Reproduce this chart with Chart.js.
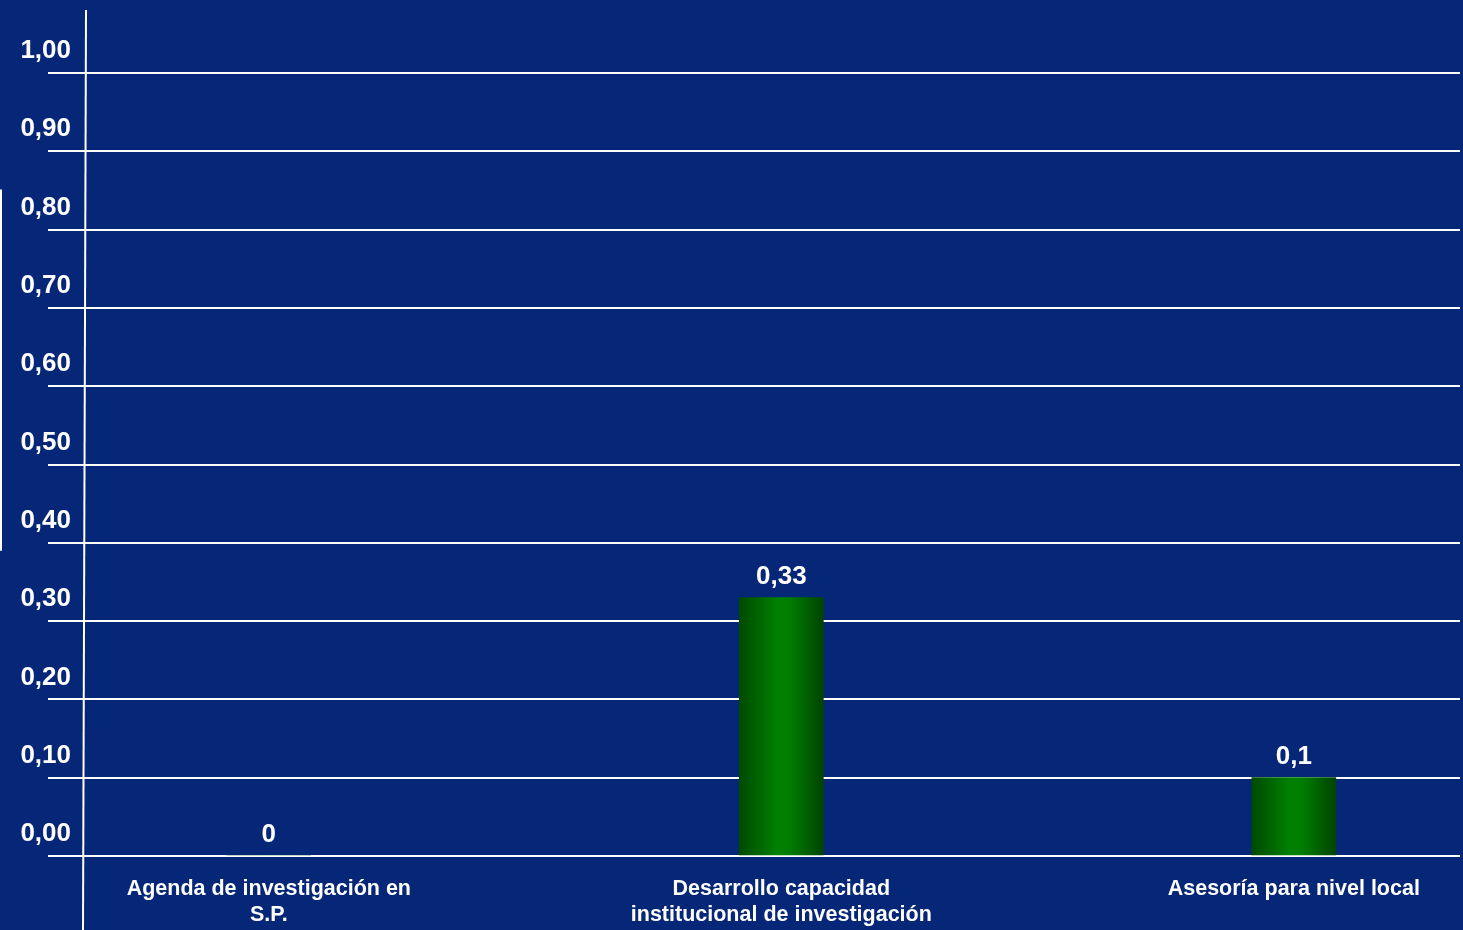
<!DOCTYPE html>
<html>
<head>
<meta charset="utf-8">
<script src="https://cdn.jsdelivr.net/npm/chart.js@4/dist/chart.umd.min.js"></script>
<style>
  html, body { margin: 0; padding: 0; background: #062677; }
  #wrap { width: 1463px; height: 930px; position: relative; }
</style>
</head>
<body>
<div id="wrap"><canvas id="c" width="1463" height="930"></canvas></div>
<script>
const categories = [
  ["Agenda de investigación en", "S.P."],
  ["Desarrollo capacidad", "institucional de investigación"],
  ["Asesoría para nivel local"]
];
const values = [0, 0.33, 0.1];
const yTickValues = [0, 0.1, 0.2, 0.3, 0.4, 0.5, 0.6, 0.7, 0.8, 0.9, 1.0];

const FONT = "'Liberation Sans', Arial, sans-serif";

function fmtComma(v) { return String(v).replace('.', ','); }

const valueLabelPlugin = {
  id: 'valueLabels',
  afterDatasetsDraw(chart) {
    const ctx = chart.ctx;
    const meta = chart.getDatasetMeta(0);
    ctx.save();
    ctx.fillStyle = '#ffffff';
    ctx.font = 'bold 26px ' + FONT;
    ctx.textAlign = 'center';
    ctx.textBaseline = 'middle';
    meta.data.forEach((el, i) => {
      ctx.fillText(fmtComma(values[i]), el.x, el.y - 21);
    });
    ctx.restore();
  }
};

const axisLinePlugin = {
  id: 'axisLine',
  afterDraw(chart) {
    const ctx = chart.ctx;
    const a = chart.chartArea;
    ctx.save();
    ctx.strokeStyle = '#ffffff';
    ctx.lineWidth = 2;
    ctx.beginPath();
    ctx.moveTo(a.left + 1, a.top);
    ctx.lineTo(a.left - 2, chart.height);
    ctx.stroke();
    // small decorative edge line on the far left
    ctx.beginPath();
    ctx.moveTo(1, chart.scales.y.getPixelForValue(0.8) - 40);
    ctx.lineTo(1, chart.scales.y.getPixelForValue(0.4) + 8);
    ctx.stroke();
    ctx.restore();
  }
};

const bgPlugin = {
  id: 'bg',
  beforeDraw(chart) {
    const ctx = chart.ctx;
    ctx.save();
    ctx.fillStyle = '#062677';
    ctx.fillRect(0, 0, chart.width, chart.height);
    ctx.restore();
  }
};

function barGradient(context) {
  const chart = context.chart;
  const xs = chart.scales.x;
  if (!xs || !chart.chartArea || context.raw == null) return '#008000';
  const cx = xs.getPixelForValue(context.raw.x);
  const g = chart.ctx.createLinearGradient(cx - 42, 0, cx + 42, 0);
  g.addColorStop(0, '#004a00');
  g.addColorStop(0.45, '#008000');
  g.addColorStop(0.6, '#007d00');
  g.addColorStop(1, '#004400');
  return g;
}

new Chart(document.getElementById('c'), {
  type: 'bar',
  data: {
    datasets: [{
      data: values.map((v, i) => ({ x: i, y: v })),
      backgroundColor: barGradient,
      borderWidth: 0,
      barThickness: 84
    }]
  },
  options: {
    responsive: false,
    animation: false,
    events: [],
    layout: { padding: { top: 10, right: 3, left: 0, bottom: 0 } },
    plugins: { legend: { display: false }, tooltip: { enabled: false } },
    scales: {
      x: {
        type: 'linear',
        min: -0.3587,
        max: 2.3243,
        offset: false,
        grid: { display: false, drawTicks: false },
        border: { display: false },
        afterBuildTicks(scale) {
          scale.ticks = categories.map((c, i) => ({ value: i }));
        },
        afterFit(scale) { scale.height = 74; },
        ticks: {
          autoSkip: false,
          maxRotation: 0,
          padding: 21,
          color: '#ffffff',
          font: { family: FONT, size: 21.5, weight: 'bold', lineHeight: 1.17 },
          callback: (v) => categories[v]
        }
      },
      y: {
        min: 0,
        max: 1.0805,
        grid: {
          color: '#ffffff',
          lineWidth: 2,
          drawTicks: true,
          tickLength: 37,
          tickColor: '#ffffff',
          tickWidth: 2
        },
        border: { display: false },
        afterBuildTicks(scale) {
          scale.ticks = yTickValues.map(v => ({ value: v }));
        },
        afterFit(scale) { scale.width = 85; },
        ticks: {
          padding: -23,
          labelOffset: -22,
          color: '#ffffff',
          font: { family: FONT, size: 26, weight: 'bold' },
          callback: (v) => Number(v).toFixed(2).replace('.', ',')
        }
      }
    }
  },
  plugins: [bgPlugin, valueLabelPlugin, axisLinePlugin]
});
</script>
</body>
</html>
